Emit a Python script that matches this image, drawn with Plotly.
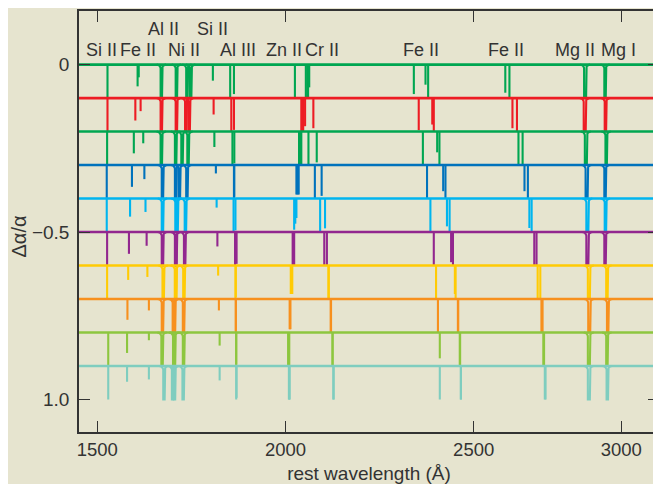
import math
import plotly.graph_objects as go

# ---------------- data ----------------
delta_alpha = [0.0, 0.1, 0.2, 0.3, 0.4, 0.5, 0.6, 0.7, 0.8, 0.9]
row_colors = ["#00a651", "#ed1c24", "#00a651", "#0072bc", "#00b5ef",
              "#92278f", "#ffcb05", "#f7901e", "#8dc63f", "#7fcdbf"]

# observed line positions (Å) for each row, and depths (in Δα/α units)
si1526 = [1527, 1527, 1526, 1525, 1525, 1526, 1526, None, 1529, 1529]
fe1608 = [1607, 1601, 1597, 1592, 1587, 1584, 1582, 1580, 1579, 1579]
fe1608_depth = [0.065, 0.067, 0.065, 0.065, 0.054, 0.065, 0.043, 0.062, 0.061, 0.047]
fe1611 = [1610, 1615, 1622, 1625, 1628, 1631, 1633, 1637, 1637, 1637]
fe1611_depth = [0.038, 0.039, 0.035, 0.042, 0.040, 0.041, 0.034, 0.034, 0.023, 0.040]
al1670 = [1670, 1670, 1670, 1673, 1673, 1673, 1675, 1673, 1672, 1677]
ni1709 = [1710, 1710, 1708, 1708, 1709, 1708, 1708, 1705, 1705, 1705]
ni1741 = [1738, 1735, 1725, 1718, 1712, 1709, 1708, 1702, 1703, 1700]
ni1751 = [1748, 1744, 1741, 1738, 1734, 1732, 1730, 1729, 1729, 1728]
si1808 = [1807, 1809, 1811, 1815, 1817, 1819, 1821, 1823, 1825, 1825]
si1808_depth = [0.048, 0.049, 0.046, 0.025, 0.027, 0.043, 0.030, 0.034, 0.039, 0.043]
al1854 = [1853, 1856, 1859, 1863, 1862, 1866, 1867, 1868, 1869, 1869]
al1862 = [1863, 1863, 1864, 1864, 1867, 1870, 1868, 1868, 1869, 1870]
al1862_depth = [0.088, 0.095, 0.095, 0.095, 0.095, 0.095, 0.095, 0.095, 0.095, 0.095]
zn2026 = [2025, 2044, 2061, 2078, 2092, 2103, 2114, 2120, 2125, 2127]
zn2062 = [2063, 2074, 2083, 2096, 2105, 2110, 2115, 2121, 2125, 2128]
zn2062_depth = [0.068, 0.090, 0.092, 0.092, 0.089, 0.1, 0.1, 0.1, 0.1, 0.1]
cr2056 = [2054, 2042, 2036, 2029, 2023, 2019, 2014, 2011, 2007, 2009]
cr2056_depth = [0.1, 0.1, 0.1, 0.088, 0.093, 0.1, 0.085, 0.09, 0.1, 0.1]
cr2062 = [2058, 2047, 2039, 2032, 2026, 2021, 2016, 2012, 2008, 2010]
cr2062_depth = [0.1, 0.1, 0.1, 0.088, 0.075, 0.1, 0.085, 0.09, 0.1, 0.1]
cr2066 = [2060, 2052, 2042, 2035, 2029, 2023, 2018, 2013, 2010, 2011]
cr2066_depth = [0.1, 0.084, 0.1, 0.088, 0.058, 0.1, 0.085, 0.09, 0.1, 0.1]
fe2344 = [2341, 2354, 2365, 2376, 2385, 2394, 2400, 2405, 2410, 2410]
fe2344_depth = [0.088, 0.096, 0.1, 0.1, 0.1, 0.1, 0.1, 0.1, 0.077, 0.1]
fe2374 = [2372, 2390, 2403, 2419, 2429, 2440, 2450, 2458, 2463, 2466]
fe2374_depth = [0.060, 0.079, 0.062, 0.078, 0.083, 0.090, 0.085, 0.1, 0.1, 0.1]
fe2382 = [2379, 2394, 2409, 2425, 2436, 2445, 2452, 2459, 2464, 2466]
fe2586 = [2584, 2603, 2619, 2635, 2648, 2661, 2670, 2680, 2685, 2689]
fe2586_depth = [0.084, 0.090, 0.1, 0.078, 0.088, 0.1, 0.1, 0.1, 0.1, 0.1]
fe2600 = [2595, 2615, 2630, 2644, 2654, 2667, 2677, 2683, 2687, 2691]
mg2796 = [2796, 2795, 2798, 2800, 2802, 2802, 2806, 2807, 2806, 2806]
mg2853 = [2849, 2850, 2852, 2849, 2850, 2849, 2854, 2856, 2854, 2855]

FULL = [0.1] * 10

weak_lines = [
    (si1526, FULL), (fe1608, fe1608_depth), (fe1611, fe1611_depth),
    (si1808, si1808_depth), (al1854, FULL), (al1862, al1862_depth),
    (zn2026, FULL), (zn2062, zn2062_depth), (cr2056, cr2056_depth),
    (cr2062, cr2062_depth), (cr2066, cr2066_depth), (fe2344, fe2344_depth),
    (fe2374, fe2374_depth), (fe2382, FULL), (fe2586, fe2586_depth), (fe2600, FULL),
]
strong_lines = [al1670, ni1709, ni1741, ni1751, mg2796, mg2853]

label_lower = ["Si II", "Fe II", "Ni II", "Al III", "Zn II", "Cr II", "Fe II", "Fe II", "Mg II", "Mg I"]
label_lower_x = [1512, 1608, 1731, 1873, 1995, 2097, 2359, 2585, 2770, 2884]
label_upper = ["Al II", "Si II"]
label_upper_x = [1676, 1807]

tick_values = [1500, 2000, 2500, 2892]
tick_labels = ["1500", "2000", "2500", "3000"]
ytick_values = [0, 0.5, 1.0]
ytick_labels = ["0", "\u22120.5", "1.0"]

# ---------------- layout constants ----------------
# the page body adds an 8 px margin, so the figure is 8 px smaller
W, H = 653, 476
ML, MR, MT, MB = 71, 0, 3, 52
X_RANGE = [1451.3, 2992.4]
Y_RANGE = [1.097, -0.160]
PW, PH = W - ML - MR, H - MT - MB
XPX = (X_RANGE[1] - X_RANGE[0]) / PW
YPX = abs(Y_RANGE[0] - Y_RANGE[1]) / PH
BG = "#e6e4cf"
INK = "#333333"
FONT = "Liberation Sans, Arial, sans-serif"

fig = go.Figure()


def strong_shape(xc, y0, d, hw_px=0.7, r_px=4.0):
    hw, rx, ry = hw_px * XPX, r_px * XPX, r_px * YPX
    xs, ys = [], []
    n = 7
    for i in range(n):
        t = (math.pi / 2) * i / (n - 1)
        xs.append(xc - hw - rx + rx * math.sin(t))
        ys.append(y0 + ry - ry * math.cos(t))
    xs += [xc - hw, xc + hw]
    ys += [y0 + d, y0 + d]
    for i in range(n - 1, -1, -1):
        t = (math.pi / 2) * i / (n - 1)
        xs.append(xc + hw + rx - rx * math.sin(t))
        ys.append(y0 + ry - ry * math.cos(t))
    return xs, ys


for k, y0 in enumerate(delta_alpha):
    col = row_colors[k]
    fig.add_trace(go.Scatter(x=X_RANGE, y=[y0, y0], mode="lines",
                             line=dict(color=col, width=2.6), hoverinfo="skip",
                             showlegend=False))
    xs, ys = [], []
    for pos, dep in weak_lines:
        if pos[k] is None:
            continue
        xs += [pos[k], pos[k], None]
        ys += [y0, y0 + dep[k], None]
    fig.add_trace(go.Scatter(x=xs, y=ys, mode="lines",
                             line=dict(color=col, width=2.1), hoverinfo="skip",
                             showlegend=False))
    xs, ys = [], []
    for pos in strong_lines:
        hw = 1.0 if pos is mg2796 else 0.7
        a, b = strong_shape(pos[k], y0, 0.1, hw_px=hw)
        xs += a + [None]
        ys += b + [None]
    fig.add_trace(go.Scatter(x=xs, y=ys, mode="lines",
                             line=dict(color=col, width=2.1), hoverinfo="skip",
                             showlegend=False))

annotations = []
for t, x in zip(label_lower, label_lower_x):
    annotations.append(dict(x=x, y=-0.043, xref="x", yref="y", text=t, showarrow=False,
                            font=dict(size=18, color=INK, family=FONT)))
for t, x in zip(label_upper, label_upper_x):
    annotations.append(dict(x=x, y=-0.107, xref="x", yref="y", text=t, showarrow=False,
                            font=dict(size=18, color=INK, family=FONT)))
annotations.append(dict(x=0, y=0.5, xref="paper", yref="paper", xshift=-61, yshift=-15,
                        xanchor="center", yanchor="middle",
                        text="\u0394\u03b1/\u03b1", textangle=-90, showarrow=False,
                        font=dict(size=20, color=INK, family=FONT)))

fig.update_layout(
    width=W, height=H,
    margin=dict(l=ML, r=MR, t=MT, b=MB, pad=0),
    paper_bgcolor=BG, plot_bgcolor=BG,
    showlegend=False,
    annotations=annotations,
    font=dict(family=FONT, color=INK, size=18),
    xaxis=dict(range=X_RANGE, tickvals=tick_values, ticktext=tick_labels,
               ticks="inside", ticklen=11, tickwidth=1.4, tickcolor=INK,
               showline=True, linecolor=INK, linewidth=1.5, mirror="ticks",
               showgrid=False, zeroline=False,
               tickfont=dict(size=18.5, color=INK, family=FONT),
               title=dict(text="rest wavelength (\u00c5)", standoff=9,
                          font=dict(size=19, color=INK, family=FONT))),
    yaxis=dict(range=Y_RANGE, tickvals=ytick_values, ticktext=ytick_labels,
               ticks="inside", ticklen=11, tickwidth=1.4, tickcolor=INK,
               showline=True, linecolor=INK, linewidth=1.5, mirror="ticks",
               showgrid=False, zeroline=False, ticklabelstandoff=4,
               tickfont=dict(size=19, color=INK, family=FONT)),
)

fig.write_html("out.html")
